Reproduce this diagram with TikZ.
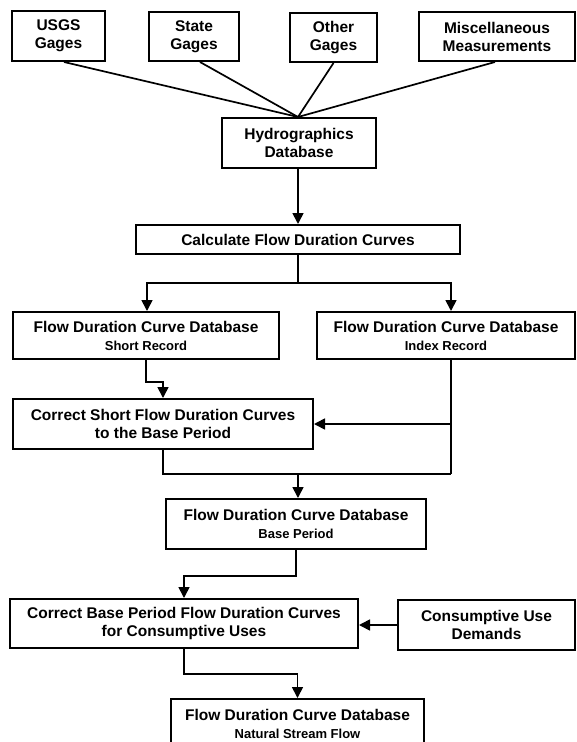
\documentclass[tikz,border=0pt]{standalone}
\usepackage{fontspec}
\setmainfont{Liberation Sans}
\usetikzlibrary{arrows.meta}
\newcommand\subt[1]{{\fontsize{13}{17}\selectfont #1}}
\begin{document}
\begin{tikzpicture}[x=1pt,y=-1pt,
  box/.style={draw, line width=2pt, align=center, inner sep=0pt,
    font=\bfseries\fontsize{15.5}{18}\selectfont, anchor=center},
  link/.style={line width=1.7pt},
  arr/.style={link, -{Triangle[length=11pt,width=11pt]}},
]
\clip (0,0) rectangle (576,742);
\fill[white] (0,0) rectangle (576,742);

\node[box, minimum width=93pt, minimum height=50pt] (usgs) at (58.5,36) {USGS\\Gages};
\node[box, minimum width=90pt, minimum height=49pt] (state) at (194,36.5) {State\\Gages};
\node[box, minimum width=87pt, minimum height=49pt] (other) at (333.5,37.5) {Other\\Gages};
\node[box, minimum width=156pt, minimum height=49pt] (misc) at (497,36.5) {Miscellaneous\\Measurements};
\node[box, minimum width=154pt, minimum height=50pt] (hydro) at (299,143) {Hydrographics\\Database};
\node[box, minimum width=324pt, minimum height=29pt] (calc) at (298,239.5) {Calculate Flow Duration Curves};
\node[box, minimum width=266pt, minimum height=47pt] (short) at (146,335.5) {Flow Duration Curve Database\\\subt{Short Record}};
\node[box, minimum width=258pt, minimum height=47pt] (index) at (446,335.5) {Flow Duration Curve Database\\\subt{Index Record}};
\node[box, minimum width=300pt, minimum height=50pt] (cshort) at (163,424) {Correct Short Flow Duration Curves\\to the Base Period};
\node[box, minimum width=260pt, minimum height=50pt] (base) at (296,524) {Flow Duration Curve Database\\\subt{Base Period}};
\node[box, minimum width=348pt, minimum height=49pt] (cbase) at (184,623.5) {Correct Base Period Flow Duration Curves\\for Consumptive Uses};
\node[box, minimum width=177pt, minimum height=50pt] (cons) at (486.5,625) {Consumptive Use\\Demands};
\node[box, minimum width=253pt, minimum height=50pt] (nat) at (297.5,724) {Flow Duration Curve Database\\\subt{Natural Stream Flow}};

\coordinate (j) at (298,117);
\draw[link] ([xshift=5.5pt]usgs.south) -- (j);
\draw[link] ([xshift=6pt]state.south) -- (j);
\draw[link] (other.south) -- (j);
\draw[link] ([xshift=-2pt]misc.south) -- (j);

\draw[arr] (hydro.south -| calc.north) -- (calc.north);
\coordinate (split) at (298,283);
\draw[link] (calc.south) -- (split);
\draw[arr] (split) -| ([xshift=1pt]short.north);
\draw[arr] (split) -| ([xshift=5pt]index.north);

\draw[arr] (short.south) -- ++(0,22) -| (cshort.north);

\coordinate (ibot) at (451,474);
\draw[link] ([xshift=5pt]index.south) -- (ibot);
\draw[arr] (ibot |- cshort.east) -- (cshort.east);
\draw[link] (cshort.south) |- (ibot);
\draw[arr] (split |- ibot) -- (split |- base.north);

\draw[arr] (base.south) -- ++(0,26) -| (cbase.north);
\draw[arr] (cons.west) -- (cons.west -| cbase.east);
\draw[arr] (cbase.south) -- ++(0,25) -| (nat.north);
\end{tikzpicture}
\end{document}
